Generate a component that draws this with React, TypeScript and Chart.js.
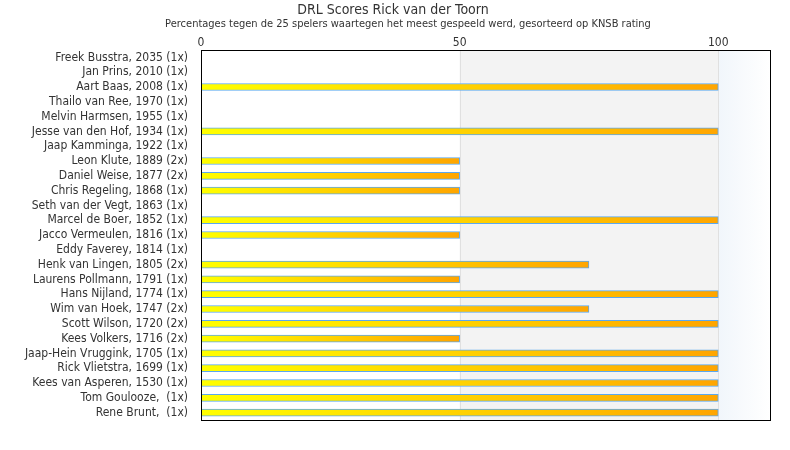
import React, { useEffect, useRef } from "react";
import { Chart, registerables } from "chart.js";

Chart.register(...registerables);

const players = [
  "Freek Busstra, 2035 (1x)",
  "Jan Prins, 2010 (1x)",
  "Aart Baas, 2008 (1x)",
  "Thailo van Ree, 1970 (1x)",
  "Melvin Harmsen, 1955 (1x)",
  "Jesse van den Hof, 1934 (1x)",
  "Jaap Kamminga, 1922 (1x)",
  "Leon Klute, 1889 (2x)",
  "Daniel Weise, 1877 (2x)",
  "Chris Regeling, 1868 (1x)",
  "Seth van der Vegt, 1863 (1x)",
  "Marcel de Boer, 1852 (1x)",
  "Jacco Vermeulen, 1816 (1x)",
  "Eddy Faverey, 1814 (1x)",
  "Henk van Lingen, 1805 (2x)",
  "Laurens Pollmann, 1791 (1x)",
  "Hans Nijland, 1774 (1x)",
  "Wim van Hoek, 1747 (2x)",
  "Scott Wilson, 1720 (2x)",
  "Kees Volkers, 1716 (2x)",
  "Jaap-Hein Vruggink, 1705 (1x)",
  "Rick Vlietstra, 1699 (1x)",
  "Kees van Asperen, 1530 (1x)",
  "Tom Goulooze,  (1x)",
  "Rene Brunt,  (1x)",
];

const scores = [0, 0, 100, 0, 0, 100, 0, 50, 50, 50, 0, 100, 50, 0, 75, 50, 100, 75, 100, 50, 100, 100, 100, 100, 100];

const xTicks = [0, 50, 100];
const xMax = 110;

const titleText = "DRL Scores Rick van der Toorn";
const subtitleText = "Percentages tegen de 25 spelers waartegen het meest gespeeld werd, gesorteerd op KNSB rating";

const FONT = "'DejaVu Sans Condensed', 'DejaVu Sans', sans-serif";

const bgPlugin = {
  id: "bgBands",
  beforeDatasetsDraw(chart: any) {
    const { ctx, chartArea, scales } = chart;
    const x = scales.x;
    const h = chartArea.bottom - chartArea.top;
    const p0 = x.getPixelForValue(0);
    const p50 = x.getPixelForValue(50);
    const p100 = x.getPixelForValue(100);
    const p110 = x.getPixelForValue(xMax);
    ctx.save();
    ctx.fillStyle = "#ffffff";
    ctx.fillRect(p0, chartArea.top, p50 - p0, h);
    ctx.fillStyle = "#f3f3f3";
    ctx.fillRect(p50, chartArea.top, p100 - p50, h);
    const g = ctx.createLinearGradient(p100, 0, p110, 0);
    g.addColorStop(0, "#f1f6fb");
    g.addColorStop(1, "#ffffff");
    ctx.fillStyle = g;
    ctx.fillRect(p100, chartArea.top, p110 - p100, h);
    ctx.strokeStyle = "#e0e0e0";
    ctx.lineWidth = 1;
    for (const v of [50, 100]) {
      const px = Math.round(x.getPixelForValue(v)) + 0.5;
      ctx.beginPath();
      ctx.moveTo(px, chartArea.top);
      ctx.lineTo(px, chartArea.bottom);
      ctx.stroke();
    }
    ctx.restore();
  },
  afterDatasetsDraw(chart: any) {
    const { ctx, chartArea } = chart;
    ctx.save();
    ctx.strokeStyle = "#000000";
    ctx.lineWidth = 1;
    ctx.strokeRect(
      Math.round(chartArea.left) + 0.5,
      Math.round(chartArea.top) + 0.5,
      Math.round(chartArea.right - chartArea.left),
      Math.round(chartArea.bottom - chartArea.top)
    );
    ctx.restore();
  },
  afterDraw(chart: any) {
    const { ctx } = chart;
    ctx.save();
    ctx.fillStyle = "#333333";
    ctx.textAlign = "center";
    ctx.textBaseline = "middle";
    ctx.font = "14px " + FONT;
    ctx.fillText(titleText, 393, 10);
    ctx.font = "11px " + FONT;
    ctx.fillText(subtitleText, 408, 24);
    ctx.restore();
  },
};

export default function App() {
  const ref = useRef<HTMLCanvasElement>(null);

  useEffect(() => {
    if (!ref.current) return;
    const chart = new Chart(ref.current, {
      type: "bar",
      data: {
        labels: players,
        datasets: [
          {
            data: scores,
            backgroundColor: (c: any) => {
              const ch = c.chart;
              const area = ch.chartArea;
              if (!area || !ch.scales.x) return "#ffcc00";
              const v = c.raw || 0;
              const x0 = ch.scales.x.getPixelForValue(0);
              const x1 = ch.scales.x.getPixelForValue(v);
              if (x1 - x0 < 1) return "#ffff00";
              const g = ch.ctx.createLinearGradient(x0, 0, x1, 0);
              g.addColorStop(0, "#ffff00");
              g.addColorStop(1, "#ffa500");
              return g;
            },
            borderColor: "#5aa8f0",
            borderWidth: 1,
            borderSkipped: false,
            barThickness: 7,
          },
        ],
      },
      options: {
        indexAxis: "y",
        animation: false,
        responsive: true,
        maintainAspectRatio: false,
        layout: { padding: { left: 0, right: 20, top: 0, bottom: 30 } },
        plugins: {
          legend: { display: false },
          tooltip: { enabled: false },
          title: { display: false },
          subtitle: { display: false },
        },
        scales: {
          x: {
            position: "top",
            min: 0,
            max: xMax,
            grid: { display: false, drawTicks: false },
            border: { display: false },
            afterBuildTicks: (s: any) => {
              s.ticks = xTicks.map((v) => ({ value: v }));
            },
            afterFit: (s: any) => {
              s.height = 50;
            },
            ticks: {
              color: "#333333",
              padding: 0,
              font: { family: FONT, size: 12 },
            },
          },
          y: {
            grid: { display: false, drawTicks: false },
            border: { display: false },
            afterFit: (s: any) => {
              s.width = 201;
            },
            ticks: {
              autoSkip: false,
              color: "#333333",
              padding: 13,
              font: { family: FONT, size: 12 },
            },
          },
        },
      },
      plugins: [bgPlugin],
    } as any);
    return () => chart.destroy();
  }, []);

  return (
    <div style={{ position: "absolute", left: 0, top: 0, width: 790, height: 450, background: "#fff" }}>
      <canvas ref={ref} />
    </div>
  );
}
